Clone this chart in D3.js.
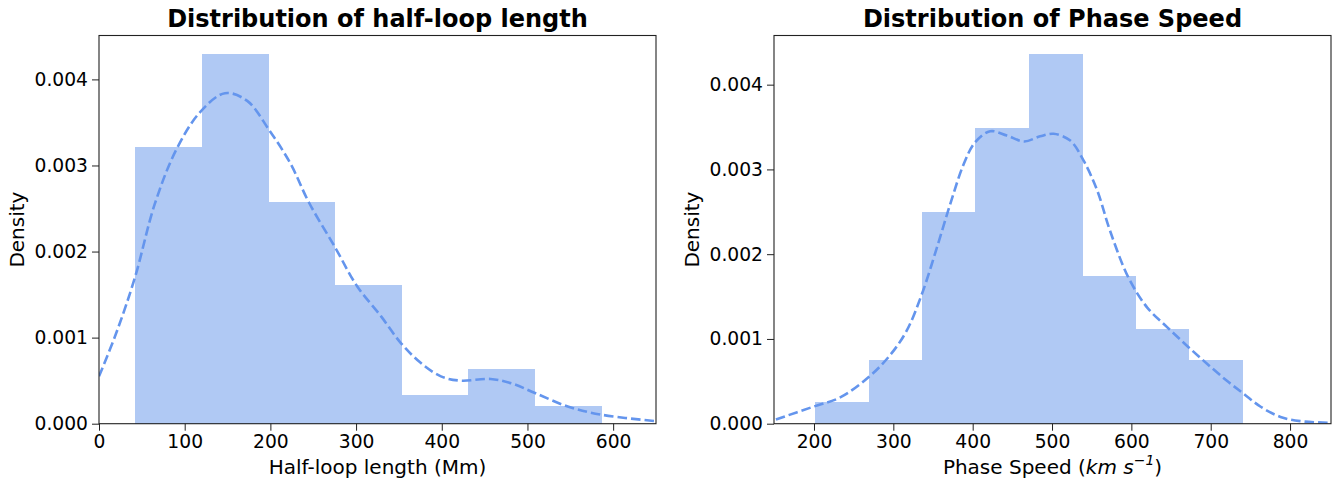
<!DOCTYPE html>
<html>
<head>
<meta charset="utf-8">
<script src="https://cdn.jsdelivr.net/npm/d3@7"></script>
<style>
  body { margin: 0; background: #fff; }
  svg { display: block; font-family: "DejaVu Sans", sans-serif; }
</style>
</head>
<body>
<svg id="chart" width="1343" height="485"></svg>
<script>
// Half-loop length histogram (bin edges in Mm, density per bin)
const lengthEdges = [42, 119.7, 197.4, 275.1, 352.8, 430.5, 508.2, 585.9];
const lengthDensity = [0.00322, 0.00429, 0.00258, 0.00161, 0.00033, 0.00064, 0.00021];
// KDE
const lengthKdeX = [0, 20, 42, 65, 90, 118, 147, 173, 198, 223, 245, 276, 301, 329, 352, 375, 399, 422, 457, 481, 508, 547, 586, 650];
const lengthKdeY = [0.00055, 0.00105, 0.0017, 0.00255, 0.00318, 0.00362, 0.00384, 0.00375, 0.00342, 0.00303, 0.00257, 0.00204, 0.0016, 0.00125, 0.00094, 0.00071, 0.00055, 0.0005, 0.00052, 0.00047, 0.00036, 0.0002, 0.000105, 0.00003];
const lengthTicks = [0, 100, 200, 300, 400, 500, 600];

// Phase speed histogram (km/s)
const speedEdges = [201.5, 268.8, 336.1, 403.4, 470.7, 538, 605.3, 672.6, 739.9];
const speedDensity = [0.000255, 0.000746, 0.0025, 0.00349, 0.00436, 0.00174, 0.00112, 0.000746];
const speedKdeX = [152, 199, 233, 269, 296, 317, 336, 355, 372, 389, 403, 422, 443, 465, 485, 502, 523, 540, 557, 573, 596, 620, 645, 670, 695, 720, 742, 763, 788, 813, 851];
const speedKdeY = [0.00005, 0.0002, 0.00031, 0.00055, 0.00081, 0.0011, 0.00153, 0.00208, 0.0026, 0.00307, 0.00332, 0.00345, 0.0034, 0.00333, 0.00339, 0.00342, 0.00334, 0.0031, 0.00275, 0.00228, 0.00173, 0.00137, 0.00114, 0.00092, 0.00071, 0.00051, 0.00035, 0.0002, 0.00008, 0.00003, 0.00001];
const speedTicks = [200, 300, 400, 500, 600, 700, 800];

const densityTicks = [0, 0.001, 0.002, 0.003, 0.004];

const svg = d3.select("#chart");
const plotTop = 35.5, plotBottom = 423.7;
const barColor = "#b0c9f4", lineColor = "#6495ed";

function panel(o) {
  const x = d3.scaleLinear().domain(o.xDomain).range([o.left, o.right]);
  const y = d3.scaleLinear().domain([0, o.yMax]).range([plotBottom, plotTop]);
  const g = svg.append("g");

  const clipId = "clip" + o.id;
  g.append("clipPath").attr("id", clipId)
    .append("rect").attr("x", o.left).attr("y", plotTop)
    .attr("width", o.right - o.left).attr("height", plotBottom - plotTop);

  // bars
  const bins = o.density.map((d, i) => ({x0: o.edges[i], x1: o.edges[i + 1], d: d}));
  g.append("g").attr("shape-rendering", "crispEdges")
    .selectAll("rect").data(bins).enter().append("rect")
    .attr("x", b => x(b.x0))
    .attr("width", b => x(b.x1) - x(b.x0) + 0.5)
    .attr("y", b => y(b.d))
    .attr("height", b => y(0) - y(b.d))
    .attr("fill", barColor);

  // kde
  const pts = o.kdeX.map((v, i) => [v, o.kdeY[i]]);
  g.append("path")
    .attr("clip-path", "url(#" + clipId + ")")
    .attr("d", d3.line().x(p => x(p[0])).y(p => y(p[1])).curve(d3.curveCatmullRom)(pts))
    .attr("fill", "none")
    .attr("stroke", lineColor)
    .attr("stroke-width", 2.6)
    .attr("stroke-dasharray", "9.5,4");

  // axes
  const xa = g.append("g").attr("transform", `translate(0,${plotBottom})`)
    .call(d3.axisBottom(x).tickValues(o.xTicks).tickSize(7).tickPadding(4).tickSizeOuter(0));
  const ya = g.append("g").attr("transform", `translate(${o.left},0)`)
    .call(d3.axisLeft(y).tickValues(densityTicks).tickFormat(d3.format(".3f")).tickSize(7).tickPadding(4).tickSizeOuter(0));
  [xa, ya].forEach(a => {
    a.select(".domain").remove();
    a.selectAll("text").attr("font-size", 18.7).attr("fill", "#000").attr("font-family", "DejaVu Sans");
    a.selectAll("line").attr("stroke", "#222");
  });

  // frame
  g.append("rect").attr("x", o.left).attr("y", plotTop)
    .attr("width", o.right - o.left).attr("height", plotBottom - plotTop)
    .attr("fill", "none").attr("stroke", "#222").attr("stroke-width", 1.1);

  const cx = (o.left + o.right) / 2;
  g.append("text").attr("x", cx).attr("y", 27).attr("text-anchor", "middle")
    .attr("font-size", 24).attr("font-weight", "bold").attr("fill", "#000").text(o.title);

  const xl = g.append("text").attr("x", cx).attr("y", 474).attr("text-anchor", "middle")
    .attr("font-size", 20).attr("fill", "#000");
  o.xLabel(xl);

  g.append("text").attr("transform", `translate(${o.left - 75},${(plotTop + plotBottom) / 2}) rotate(-90)`)
    .attr("text-anchor", "middle").attr("font-size", 20).attr("fill", "#000").text("Density");
}

panel({
  id: 1, left: 99, right: 656, xDomain: [0, 650], yMax: 0.00451,
  edges: lengthEdges, density: lengthDensity, kdeX: lengthKdeX, kdeY: lengthKdeY,
  xTicks: lengthTicks, title: "Distribution of half-loop length",
  xLabel: t => t.text("Half-loop length (Mm)")
});

panel({
  id: 2, left: 774, right: 1331, xDomain: [149.6, 851.6], yMax: 0.00458,
  edges: speedEdges, density: speedDensity, kdeX: speedKdeX, kdeY: speedKdeY,
  xTicks: speedTicks, title: "Distribution of Phase Speed",
  xLabel: t => {
    t.append("tspan").text("Phase Speed (");
    t.append("tspan").attr("font-style", "italic").text("km s");
    t.append("tspan").attr("font-style", "italic").attr("font-size", 14).attr("dy", -9).text("\u22121");
    t.append("tspan").attr("dy", 9).text(")");
  }
});
</script>
</body>
</html>
